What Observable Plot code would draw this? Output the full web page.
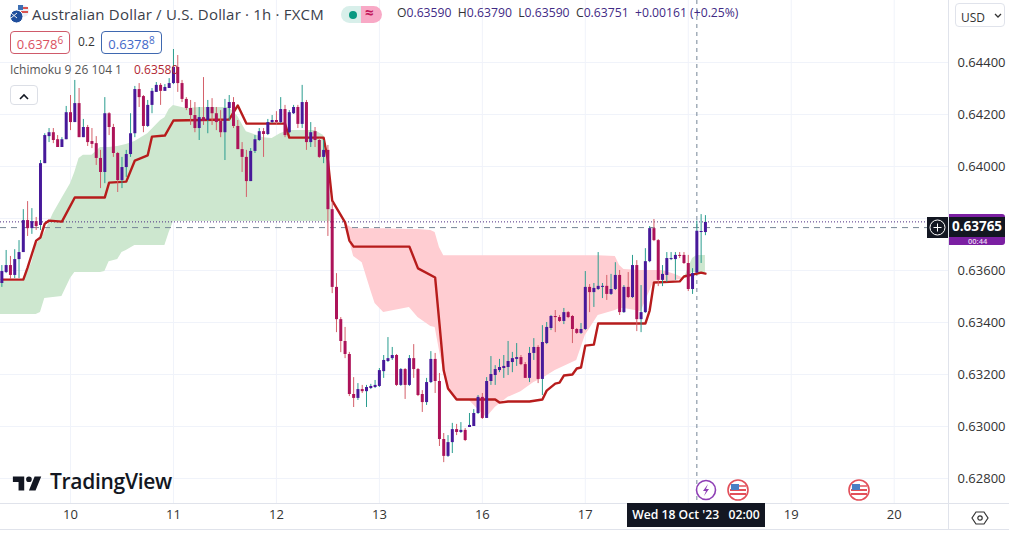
<!DOCTYPE html>
<html><head><meta charset="utf-8">
<script src="https://cdn.jsdelivr.net/npm/d3@7"></script>
<script src="https://cdn.jsdelivr.net/npm/@observablehq/plot@0.6"></script>
<style>
html,body{margin:0;padding:0;background:#fff;}
#wrap{position:relative;width:1009px;height:534px;overflow:hidden;font-family:"Open Sans",sans-serif;color:#131722;}
#wrap svg.plot{display:block;}
.o{position:absolute;white-space:nowrap;line-height:1;}
.box{position:absolute;box-sizing:border-box;background:#fff;border-radius:4px;text-align:center;font-size:13px;}
sup{font-size:10px;line-height:0;}
</style></head><body><div id="wrap"></div>
<script>
const firstHour=-16;
const open=[63550,63592,63619,63581,63642,63669,63792,63761,63788,63773,64011,64115,64130,64103,64073,64103,64207,64169,64242,64111,64150,64096,64088,64031,63977,64203,64150,64050,63946,63996,64046,64126,64296,64269,64154,64235,64285,64312,64289,64300,64319,64381,64319,64258,64223,64196,64146,64188,64177,64227,64203,64173,64130,64223,64246,64154,64065,64035,63942,64058,64100,64134,64123,64169,64177,64169,64219,64130,64203,64227,64162,64246,64092,64134,64100,64035,64062,63834,63535,63411,63327,63277,63123,63108,63142,63134,63146,63150,63154,63211,63250,63261,63273,63158,63219,63158,63261,63219,63123,63092,63169,63258,63173,62950,62885,62938,62988,62977,62985,62996,63000,63050,63112,63031,63173,63196,63215,63223,63227,63246,63258,63265,63238,63185,63281,63304,63181,63319,63377,63423,63419,63404,63438,63423,63373,63358,63373,63535,63515,63527,63535,63539,63508,63527,63581,63438,63535,63496,63619,63411,63438,63634,63761,63715,63562,63581,63642,63642,63658,63658,63627,63527,63590,63746,63746];
const high=[63619,63677,63654,63680,63715,63834,63865,63838,63804,64023,64126,64146,64146,64119,64111,64231,64273,64331,64300,64181,64158,64146,64115,64062,64265,64207,64162,64054,64035,64062,64203,64308,64319,64273,64254,64300,64323,64319,64315,64338,64450,64427,64331,64265,64254,64246,64227,64342,64254,64261,64227,64215,64258,64273,64265,64177,64092,64062,64069,64119,64146,64146,64181,64196,64211,64265,64235,64215,64235,64235,64312,64254,64169,64150,64108,64100,64081,63861,63588,63419,63381,63285,63188,63165,63158,63158,63162,63177,63223,63273,63342,63304,63277,63223,63223,63273,63315,63223,63138,63185,63288,63281,63204,62973,62965,63012,63008,63015,62992,63050,63065,63119,63127,63188,63269,63234,63258,63273,63327,63285,63319,63273,63246,63304,63338,63311,63388,63400,63427,63446,63427,63454,63442,63427,63377,63396,63596,63546,63550,63669,63550,63581,63585,63630,63600,63542,63592,63658,63638,63542,63684,63769,63796,63719,63619,63669,63669,63669,63669,63669,63658,63607,63790,63815,63811];
const low=[63535,63588,63565,63569,63569,63669,63731,63739,63754,63754,64011,64092,64088,64073,64073,64103,64138,64169,64111,64111,64077,64069,64004,63915,63934,64119,64035,63900,63915,63958,64035,64111,64227,64130,64150,64203,64285,64235,64289,64300,64315,64285,64246,64215,64158,64130,64100,64158,64126,64158,64138,64111,64023,64177,64146,64065,63977,63881,63942,64050,64096,64035,64119,64165,64158,64165,64111,64126,64200,64146,64146,64062,64073,64073,64031,64011,63731,63511,63361,63284,63261,63115,63073,63100,63127,63073,63142,63146,63150,63185,63246,63254,63154,63154,63104,63154,63185,63115,63054,63081,63165,63127,62923,62861,62881,62896,62965,62973,62942,62996,63000,63046,63027,63031,63158,63158,63207,63185,63196,63207,63231,63234,63185,63169,63254,63165,63119,63315,63369,63361,63400,63392,63415,63319,63354,63354,63369,63438,63458,63523,63492,63485,63504,63523,63427,63435,63492,63492,63365,63361,63435,63630,63711,63538,63538,63554,63638,63562,63646,63623,63519,63508,63590,63627,63734];
const close=[63596,63619,63581,63642,63669,63792,63761,63788,63769,64011,64119,64130,64100,64073,64103,64207,64169,64242,64111,64150,64092,64085,64031,63977,64203,64150,64050,63946,63996,64046,64126,64296,64265,64154,64235,64289,64312,64289,64304,64319,64381,64319,64258,64223,64196,64146,64188,64173,64227,64203,64169,64130,64223,64246,64154,64065,64035,63942,64058,64103,64134,64123,64169,64177,64169,64219,64119,64207,64227,64162,64246,64092,64130,64100,64035,64062,63834,63535,63411,63327,63277,63123,63108,63142,63134,63150,63154,63158,63215,63254,63261,63273,63158,63219,63158,63261,63219,63119,63092,63169,63258,63173,62950,62885,62938,62988,62977,62985,62946,63004,63050,63112,63031,63173,63200,63219,63227,63231,63250,63261,63265,63238,63185,63281,63304,63181,63323,63381,63423,63419,63404,63438,63419,63373,63358,63373,63535,63515,63531,63539,63539,63508,63527,63581,63438,63535,63496,63619,63411,63438,63634,63761,63715,63562,63585,63646,63646,63658,63654,63627,63527,63588,63751,63750,63785];

const kijunHours=[-16,-11,-10,-8,-7,-6,-5,-2,1,8,9,13,15,18,19,22,24,37,39,41,50,51,59,60,61,64,65,66,79,81,85,86,87,88,90,99,100,102,107,110,111,113,114,115,117,118,119,120,122,123,134,135,136,142,143,147,148];
const kijun=[63565,63565,63611,63715,63727,63780,63792,63788,63881,63881,63938,63942,64023,64043,64115,64119,64177,64181,64235,64165,64165,64111,64111,64023,63869,63785,63715,63692,63692,63608,63573,63396,63215,63146,63104,63104,63092,63096,63096,63104,63138,63165,63169,63196,63200,63223,63227,63311,63315,63396,63396,63446,63554,63558,63577,63592,63588];

const greenHours=[-17,-11,-9,-8,-7,-6,-4,-2,0,1,2,3,5,7,8,9,11,12,13,15,18,21,22,23,24,27,30,37,39,41,45,47,49,51,57,59,60,61];
const greenTop=[63558,63558,63630,63696,63723,63746,63819,63877,63934,63977,64031,64043,64043,64073,64073,64073,64077,64081,64085,64096,64126,64177,64188,64219,64235,64223,64227,64227,64192,64134,64111,64108,64127,64138,64138,64119,64004,63788];
const greenBottom=[63431,63431,63431,63431,63438,63492,63496,63500,63569,63592,63592,63592,63592,63592,63596,63634,63642,63669,63677,63696,63696,63696,63696,63746,63788,63788,63788,63788,63788,63788,63788,63788,63788,63788,63788,63788,63788,63788];

const redHours=[64,65,66,68,70,71,73,79,81,84,85,86,87,88,90,93,95,97,99,102,105,108,110,113,118,120,123,127,128,129,133,136,138,141,143];
const redTop=[63781,63769,63761,63761,63761,63761,63761,63758,63758,63754,63746,63688,63657,63657,63657,63657,63657,63657,63657,63657,63657,63657,63657,63657,63657,63657,63657,63654,63619,63604,63600,63600,63600,63585,63569];
const redBottom=[63781,63715,63654,63630,63523,63473,63438,63458,63419,63385,63381,63292,63207,63138,63100,63100,63065,63035,63073,63112,63134,63169,63185,63215,63254,63350,63427,63446,63454,63454,63442,63558,63562,63562,63569];

const tailHours=[143,145,146,148];
const tailTop=[63569,63646,63658,63658];
const tailBottom=[63569,63592,63592,63592];

const priceTicks=[0.628,0.63,0.632,0.634,0.636,0.638,0.64,0.642,0.644];
const shownPriceTicks=[0.628,0.63,0.632,0.634,0.636,0.64,0.642,0.644];
const dayHours=[0,24,48,72,96,120,144,168,192];
const labelledHours=[0,24,48,72,96,120,168,192];
const labelledDays=["10","11","12","13","16","17","19","20"];
const crosshairHour=146, crosshairPrice=0.63765, lastPrice=0.63787;

const P=v=>v/1e5;
const candles=open.map((o,i)=>({h:firstHour+i,o:P(o),hi:P(high[i]),lo:P(low[i]),c:P(close[i]),up:close[i]>=o}));
const band=(hs,a,b)=>hs.map((h,i)=>({h,a:P(a[i]),b:P(b[i])}));
const ups=candles.filter(d=>d.up), downs=candles.filter(d=>!d.up);
const UP="#47199a",DOWN="#ad1359",UPW="#2a9d8f",DOWNW="#d4606a",GRID="#f0f3fa",EDGE="#e0e3eb",CROSS="#758696";

const chart=Plot.plot({
  width:1009,height:534,marginLeft:0,marginRight:61,marginTop:0,marginBottom:31,
  style:{background:"#fff",fontFamily:'"Open Sans",sans-serif',overflow:"visible"},
  x:{domain:[-16.317,204.66]},
  y:{domain:[0.627038,0.646385]},
  marks:[
    Plot.gridY(priceTicks,{stroke:GRID,strokeOpacity:1}),
    Plot.gridX(dayHours,{stroke:GRID,strokeOpacity:1}),
    Plot.areaY(band(greenHours,greenTop,greenBottom),{x:"h",y1:"a",y2:"b",fill:"#cde7cf",clip:true}),
    Plot.areaY(band(redHours,redTop,redBottom),{x:"h",y1:"a",y2:"b",fill:"#ffcdd2"}),
    Plot.areaY(band(tailHours,tailTop,tailBottom),{x:"h",y1:"a",y2:"b",fill:"#cde7cf"}),
    Plot.ruleX([crosshairHour],{stroke:CROSS,strokeDasharray:"4,4"}),
    Plot.ruleY([crosshairPrice],{stroke:CROSS,strokeDasharray:"6,5"}),
    Plot.ruleY([lastPrice],{stroke:"#4a2a80",strokeDasharray:"1,2"}),
    Plot.line(kijunHours.map((h,i)=>({h,v:P(kijun[i])})),{x:"h",y:"v",stroke:"#b71c1c",strokeWidth:2.4}),
    Plot.ruleX(ups,{x:"h",y1:"lo",y2:"hi",stroke:UPW,strokeWidth:1}),
    Plot.ruleX(downs,{x:"h",y1:"lo",y2:"hi",stroke:DOWNW,strokeWidth:1}),
    Plot.ruleX(ups,{x:"h",y1:"o",y2:"c",stroke:UP,strokeWidth:3}),
    Plot.ruleX(downs,{x:"h",y1:"o",y2:"c",stroke:DOWN,strokeWidth:3}),
    Plot.axisY(shownPriceTicks,{anchor:"right",tickSize:0,tickPadding:9,fontSize:13,fill:"#333",label:null,tickFormat:d=>d.toFixed(5)}),
    Plot.axisX(labelledHours,{anchor:"bottom",tickSize:0,tickPadding:6,fontSize:13,fill:"#333",label:null,tickFormat:d=>labelledDays[labelledHours.indexOf(d)]}),
    Plot.ruleY([0.627038],{stroke:EDGE}),
    Plot.ruleX([204.66],{stroke:EDGE})
  ]
});
const wrap=document.getElementById("wrap");
wrap.appendChild(chart);
wrap.insertAdjacentHTML("beforeend",`
<div class="o" style="left:948px;top:503px;width:61px;height:1px;background:#e0e3eb"></div>
<div class="o" style="left:0;top:529px;width:1009px;height:1px;background:#e0e3eb"></div>
<div class="o" style="left:948px;top:503px;width:1px;height:27px;background:#e0e3eb"></div>
<svg class="o" style="left:9px;top:4px" width="20" height="20" viewBox="0 0 20 20">
 <circle cx="14" cy="7" r="6" fill="#e9eef5"/><path d="M9 4h10M8 8h11" stroke="#d9534f" stroke-width="2"/><rect x="9" y="1" width="5" height="5" fill="#3d6fb4"/>
 <circle cx="7.5" cy="12.5" r="6.5" fill="#1f4e9c" stroke="#fff"/><path d="M2 9l6 5M8 9l-6 5" stroke="#f2f2f2" stroke-width="1"/></svg>
<div class="o" style="left:32px;top:7px;font-size:15px;color:#3a3e4a;letter-spacing:.2px">Australian Dollar / U.S. Dollar · 1h · FXCM</div>
<div class="o" style="left:341px;top:6px;width:21px;height:17px;background:#d8efea;border-radius:9px 0 0 9px"></div>
<div class="o" style="left:349px;top:11px;width:8px;height:8px;background:#089981;border-radius:50%"></div>
<div class="o" style="left:361px;top:6px;width:21px;height:17px;background:#f8a9c6;border-radius:0 9px 9px 0"></div>
<div class="o" style="left:365px;top:5px;font-size:15px;color:#c2185b;font-weight:700">≈</div>
<div class="o" style="left:397px;top:7px;font-size:12.2px;color:#3f2a85"><span style="color:#333">O</span>0.63590&nbsp; <span style="color:#333">H</span>0.63790&nbsp; <span style="color:#333">L</span>0.63590&nbsp; <span style="color:#333">C</span>0.63751&nbsp; +0.00161 (+0.25%)</div>
<div class="box" style="left:10px;top:31px;width:60px;height:23px;border:1px solid #cf5a6a;color:#d9505e;padding-top:3px">0.6378<sup>6</sup></div>
<div class="o" style="left:78px;top:36px;font-size:12px;color:#333">0.2</div>
<div class="box" style="left:101px;top:31px;width:61px;height:23px;border:1px solid #3f68b0;color:#3f68c8;padding-top:3px">0.6378<sup>8</sup></div>
<div class="o" style="left:10px;top:64px;font-size:12px;color:#555">Ichimoku 9 26 104 1</div>
<div class="o" style="left:134px;top:64px;font-size:12px;color:#b22833">0.63580</div>
<div class="box" style="left:10px;top:85px;width:28px;height:20px;border:1px solid #dcdfe6;font-size:11px;padding-top:3px"><svg width="12" height="8" viewBox="0 0 12 8"><path d="M2 6l4-4 4 4" fill="none" stroke="#131722" stroke-width="1.6"/></svg></div>
<svg class="o" style="left:11px;top:471px" width="34" height="24" viewBox="0 2 36 22"><path fill="#131722" d="M14 6H2v6h6v9h6V6zm12 15h-7l6-15h7l-6 15zm-7-9a3 3 0 1 0 0-6 3 3 0 0 0 0 6z"/></svg>
<div class="o" style="left:50px;top:471px;font-size:21px;font-weight:600;color:#131722;letter-spacing:-.3px">TradingView</div>
<div class="box" style="left:955px;top:3px;width:50px;height:24px;border:1px solid #e0e3eb;font-size:12px;text-align:left;padding:5px 0 0 5px;color:#333">USD<svg style="position:absolute;left:38px;top:9px" width="8" height="6" viewBox="0 0 8 6"><path d="M1 1l3 3 3-3" fill="none" stroke="#333" stroke-width="1.3"/></svg></div>
<div class="o" style="left:949px;top:214px;width:56px;height:31px;background:#7b1fa2;border-radius:0 3px 3px 0"><span style="position:absolute;left:19px;top:23.5px;color:#e8d5f0;font-size:7.5px;font-weight:600">00:44</span></div>
<div class="o" style="left:927px;top:217px;width:21px;height:21px;background:#131722"></div>
<svg class="o" style="left:929px;top:219px" width="17" height="17" viewBox="0 0 17 17"><circle cx="8.5" cy="8.5" r="7.5" fill="none" stroke="#fff"/><path d="M8.5 4.5v8M4.5 8.5h8" stroke="#fff"/></svg>
<div class="o" style="left:949px;top:217px;width:56px;height:20px;background:#131722;color:#fff;font-size:13.5px;font-weight:700;text-align:center;padding-top:3px;box-sizing:border-box">0.63765</div>
<div class="o" style="left:627px;top:503px;width:138px;height:24px;background:#131722;color:#fff;font-size:12.2px;font-weight:600;text-align:center;padding-top:6px;box-sizing:border-box">Wed 18 Oct '23&nbsp;&nbsp; 02:00</div>
<svg class="o" style="left:694px;top:478px" width="24" height="24" viewBox="0 0 24 24"><circle cx="12" cy="12" r="9.5" fill="#fff" stroke="#8e3fb5" stroke-width="1.6"/><path d="M14 6l-5 7h3l-2 5 5-7h-3z" fill="#8e3fb5"/></svg>
${[738,859].map(x=>`<svg class="o" style="left:${x-11}px;top:479px" width="22" height="22" viewBox="0 0 22 22"><circle cx="11" cy="11" r="10" fill="#fff" stroke="#e2505a" stroke-width="1.6"/><path d="M3 11h16M3 15h16" stroke="#e2505a" stroke-width="2"/><rect x="4" y="5" width="8" height="6" fill="#4a7fc4"/><path d="M12 7h7" stroke="#e2505a" stroke-width="1.5"/></svg>`).join("")}
<svg class="o" style="left:971px;top:510px" width="18" height="16" viewBox="0 0 18 16"><path d="M5 2h8l4 6-4 6H5L1 8z" fill="none" stroke="#333" stroke-width="1.2"/><circle cx="9" cy="8" r="2.2" fill="none" stroke="#333" stroke-width="1.2"/></svg>
`);
</script></body></html>
